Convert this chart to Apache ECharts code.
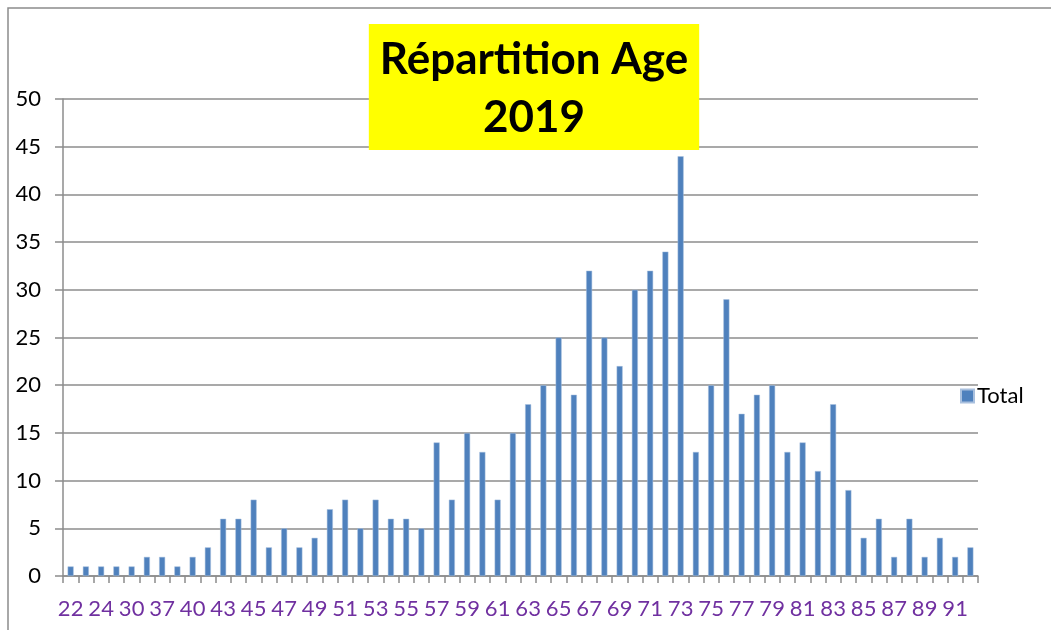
<!DOCTYPE html>
<html>
<head>
<meta charset="utf-8">
<script src="https://cdn.jsdelivr.net/npm/echarts@6/dist/echarts.min.js"></script>
<style>
  html, body { margin: 0; padding: 0; background: #fff; }
  #chart { width: 1051px; height: 630px; }
</style>
</head>
<body>
<div id="chart"></div>
<script>
// ages (categories) and counts
const ages = [
  '22', '23', '24', '28', '30', '34', '37', '38', '40', '42',
  '43', '44', '45', '46', '47', '48', '49', '50', '51', '52',
  '53', '54', '55', '56', '57', '58', '59', '60', '61', '62',
  '63', '64', '65', '66', '67', '68', '69', '70', '71', '72',
  '73', '74', '75', '76', '77', '78', '79', '80', '81', '82',
  '83', '84', '85', '86', '87', '88', '89', '90', '91', '92'
];
const totals = [
  1, 1, 1, 1, 1, 2, 2, 1, 2, 3,
  6, 6, 8, 3, 5, 3, 4, 7, 8, 5,
  8, 6, 6, 5, 14, 8, 15, 13, 8, 15,
  18, 20, 25, 19, 32, 25, 22, 30, 32, 34,
  44, 13, 20, 29, 17, 19, 20, 13, 14, 11,
  18, 9, 4, 6, 2, 6, 2, 4, 2, 3
];
const yTicks = { min: 0, max: 50, interval: 5 };

const gridGray = '#8c8c8c';
const font = 'Lato, "Open Sans", sans-serif';

var myChart = echarts.init(document.getElementById('chart'));
const option = {
  backgroundColor: '#fff',
  animation: false,
  graphic: [
    {
      type: 'rect',
      z: -10,
      shape: { x: 8, y: 8, width: 1100, height: 700 },
      style: { fill: 'none', stroke: gridGray, lineWidth: 1.5 }
    }
  ],
  title: {
    text: 'Répartition Age\n2019',
    left: 523,
    top: 24,
    textAlign: 'center',
    backgroundColor: '#ffff00',
    padding: [7, 11, 3, 11],
    z: 10,
    textStyle: {
      fontFamily: font,
      fontSize: 44,
      fontWeight: 'bold',
      color: '#000',
      lineHeight: 58
    }
  },
  legend: {
    data: ['Total'],
    left: 955,
    top: 380,
    icon: 'rect',
    itemWidth: 13,
    itemHeight: 13,
    itemGap: 6,
    textStyle: { fontFamily: font, fontSize: 22, color: '#000', padding: [0, 0, 0, -2] }
  },
  grid: {
    left: 63,
    right: 73,
    top: 99,
    bottom: 54
  },
  xAxis: {
    type: 'category',
    data: ages,
    boundaryGap: true,
    axisLine: { show: true, lineStyle: { color: gridGray, width: 1.5 } },
    axisTick: { show: true, interval: 0, length: 7, lineStyle: { color: gridGray, width: 1.5 } },
    axisLabel: {
      interval: 1,
      margin: 22,
      fontFamily: font,
      fontSize: 22,
      color: '#7030a0'
    },
    splitLine: { show: false }
  },
  yAxis: {
    type: 'value',
    min: yTicks.min,
    max: yTicks.max,
    interval: yTicks.interval,
    axisLine: { show: true, lineStyle: { color: gridGray, width: 1.5 } },
    axisTick: { show: true, length: 8, lineStyle: { color: gridGray, width: 1.5 } },
    axisLabel: {
      margin: 22,
      fontFamily: font,
      fontSize: 22,
      color: '#000'
    },
    splitLine: { show: true, lineStyle: { color: gridGray, width: 1.5 } }
  },
  series: [
    {
      name: 'Total',
      type: 'bar',
      data: totals,
      barWidth: 6,
      itemStyle: { color: '#4f81bd', borderColor: '#a9c0de', borderWidth: 0.5 }
    }
  ]
};
myChart.setOption(option);
</script>
</body>
</html>
